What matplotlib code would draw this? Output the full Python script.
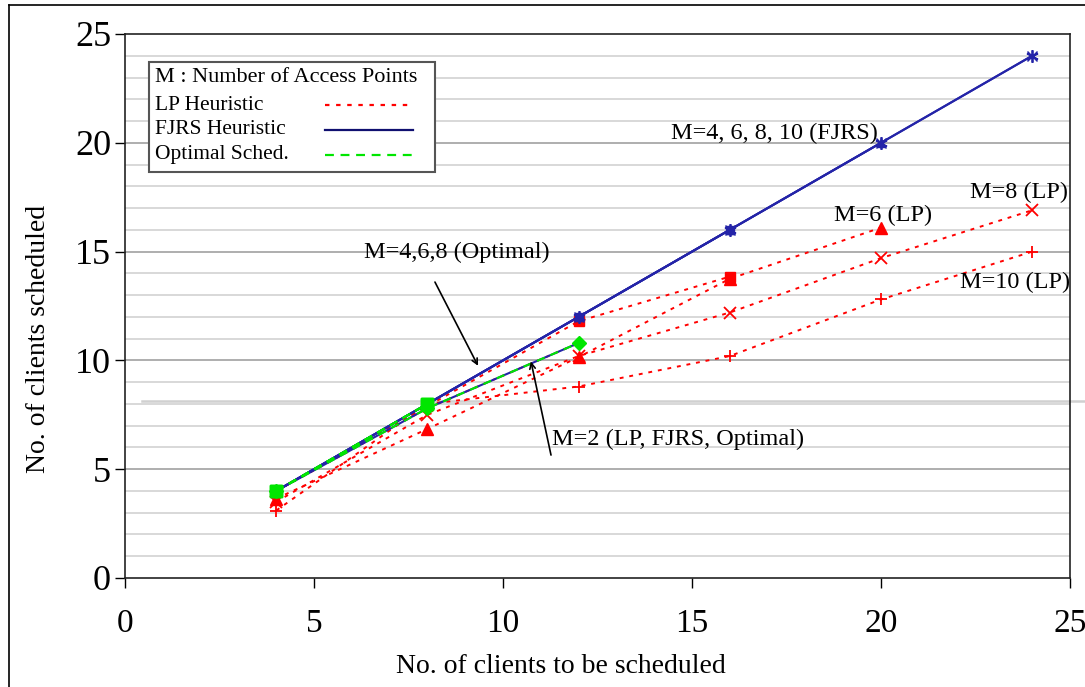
import matplotlib
matplotlib.use('Agg')
import matplotlib.pyplot as plt
from matplotlib.lines import Line2D
from matplotlib.patches import Rectangle

plt.rcParams['font.family'] = ['Liberation Serif', 'DejaVu Serif']

# data
clients = [4, 8, 12, 16, 20, 24]

# LP heuristic (red dotted)
lp_m2 = [4.0, 7.8, 10.8]
lp_m4 = [4.0, 7.9, 11.8, 13.85]
lp_m6 = [3.65, 6.85, 10.15, 13.75, 16.1]
lp_m8 = [3.5, 7.5, 10.2, 12.2, 14.7, 16.9]
lp_m10 = [3.1, 8.0, 8.8, 10.2, 12.8, 15.0]

# FJRS heuristic (blue solid)
fjrs_m2 = [4.0, 7.8, 10.8]
fjrs_m4 = [4, 8, 12, 16]
fjrs_m6 = [4, 8, 12, 16, 20]
fjrs_m8 = [4, 8, 12, 16, 20, 24]
fjrs_m10 = [4, 8, 12, 16, 20, 24]

# optimal schedule (green dashed)
opt_m2 = [4.0, 7.8, 10.8]
opt_m4 = [4, 8]
opt_m6 = [4, 8]
opt_m8 = [4, 8]

red = '#ff0000'
blue = '#2424a8'
green = '#00e600'
lp_ls = (0, (2, 3))
opt_ls = (0, (4, 3))
star = (6, 2, 0)

fig = plt.figure(figsize=(10.85, 6.87), dpi=100)
ax = fig.add_axes([125/1085, 1 - 578/687, 945/1085, 544/687])

# grid: light every unit, darker every 5
for v in range(1, 25):
    if v % 5 == 0:
        ax.axhline(v, color='#a8a8a8', lw=1.3, zorder=0)
    else:
        ax.axhline(v, color='#d6d6d6', lw=1.3, zorder=0)

# scan line running across the picture
ax.add_line(Line2D([142/1085, 1], [1 - 401/687, 1 - 401/687], transform=fig.transFigure,
                   color='#d0d0d0', lw=1.8, zorder=1, clip_on=False))

# LP
ax.plot(clients[:3], lp_m2, color=red, ls=lp_ls, lw=1.4, marker='D', ms=6, zorder=2)
ax.plot(clients[:4], lp_m4, color=red, ls=lp_ls, lw=1.4, marker='s', ms=7, zorder=2)
ax.plot(clients[:5], lp_m6, color=red, ls=lp_ls, lw=1.4, marker='^', ms=8, zorder=2)
ax.plot(clients, lp_m8, color=red, ls=lp_ls, lw=1.4, marker='x', ms=8, mew=1.3, zorder=2)
ax.plot(clients, lp_m10, color=red, ls=lp_ls, lw=1.4, marker='+', ms=9, mew=1.3, zorder=2)

# FJRS
ax.plot(clients[:3], fjrs_m2, color=blue, lw=1.5, zorder=3)
ax.plot(clients[:4], fjrs_m4, color=blue, lw=1.5, marker='s', ms=6, zorder=3)
ax.plot(clients[:5], fjrs_m6, color=blue, lw=1.5, marker='^', ms=6, zorder=3)
ax.plot(clients, fjrs_m8, color=blue, lw=1.5, marker='x', ms=7, zorder=3)
ax.plot(clients, fjrs_m10, color=blue, lw=1.5, marker=star, ms=9, mew=1.3, zorder=3)

# Optimal
ax.plot(clients[:3], opt_m2, color=green, ls=opt_ls, lw=1.5, marker='D', ms=7, zorder=4)
ax.plot(clients[:2], opt_m4, color=green, ls=opt_ls, lw=1.5, marker='s', ms=8, zorder=4)
ax.plot(clients[:2], opt_m6, color=green, ls=opt_ls, lw=1.5, marker='s', ms=8, zorder=4)
ax.plot(clients[:2], opt_m8, color=green, ls=opt_ls, lw=1.5, marker='s', ms=8, zorder=4)

ax.set_xlim(0, 25)
ax.set_ylim(0, 25)
ax.set_xticks([0, 5, 10, 15, 20, 25])
ax.set_yticks([0, 5, 10, 15, 20, 25])
ax.tick_params(axis='x', direction='out', length=7, width=1, pad=15, labelsize=24)
ax.tick_params(axis='y', direction='out', length=7, width=1, pad=3, labelsize=26)
for s in ax.spines.values():
    s.set_color('#222222')
    s.set_linewidth(1.2)

ax.set_xlabel('No. of clients to be scheduled', fontsize=20)
ax.xaxis.label.set_va('center')
ax.xaxis.set_label_coords(0.461, -0.1636)
ax.set_ylabel('No. of clients scheduled', fontsize=20)
ax.yaxis.label.set_va('center')
ax.yaxis.set_label_coords(-0.092, 0.44)

# annotations
ax.text(14.45, 20.45, 'M=4, 6, 8, 10 (FJRS)', fontsize=17.5, ha='left', va='center', zorder=5)
ax.text(18.75, 16.65, 'M=6 (LP)', fontsize=17.5, ha='left', va='center', zorder=5)
ax.text(22.35, 17.7, 'M=8 (LP)', fontsize=17.5, ha='left', va='center', zorder=5)
ax.text(22.1, 13.6, 'M=10 (LP)', fontsize=17.5, ha='left', va='center', zorder=5)
ax.text(8.78, 14.95, 'M=4,6,8 (Optimal)', fontsize=17.5, ha='center', va='center', zorder=5)
ax.annotate('', xy=(9.34, 9.75), xytext=(8.2, 13.6), zorder=5,
            arrowprops=dict(arrowstyle='->', color='black', lw=1.2, shrinkA=0, shrinkB=0))
ax.text(11.3, 6.35, 'M=2 (LP, FJRS, Optimal)', fontsize=17.5, ha='left', va='center', zorder=5)
ax.annotate('', xy=(10.74, 9.95), xytext=(11.27, 5.65), zorder=5,
            arrowprops=dict(arrowstyle='->', color='black', lw=1.2, shrinkA=0, shrinkB=0))

# legend box drawn by hand
lx0, ly0 = (149 - 125) / 945, (578 - 172) / 544
lw_, lh_ = (435 - 149) / 945, (172 - 62) / 544
ax.add_patch(Rectangle((lx0, ly0), lw_, lh_, transform=ax.transAxes,
                       facecolor='white', edgecolor='#555555', lw=1.5, zorder=6))
rows = [('M : Number of Access Points', None, None, 16),
        ('LP Heuristic', red, lp_ls, 15.5),
        ('FJRS Heuristic', '#101070', '-', 15.5),
        ('Optimal Sched.', green, opt_ls, 15.5)]
row_y = [78, 105, 130, 155]
for (label, col, ls, fs), py in zip(rows, row_y):
    ya = (578 - py) / 544
    ax.text((155 - 125) / 945, ya, label, transform=ax.transAxes, fontsize=fs,
            ha='left', va='center', zorder=7)
    if col is not None:
        ax.add_line(Line2D([(325 - 125) / 945, (413 - 125) / 945], [ya, ya],
                           transform=ax.transAxes, color=col, ls=ls, lw=1.6, zorder=7))

# outer frame
fig.add_artist(Line2D([9/1085, 9/1085], [0, 1 - 5/687], transform=fig.transFigure,
                      color='black', lw=1.2))
fig.add_artist(Line2D([9/1085, 1], [1 - 5/687, 1 - 5/687], transform=fig.transFigure,
                      color='black', lw=1.2))

fig.savefig('out.png', dpi=100)
